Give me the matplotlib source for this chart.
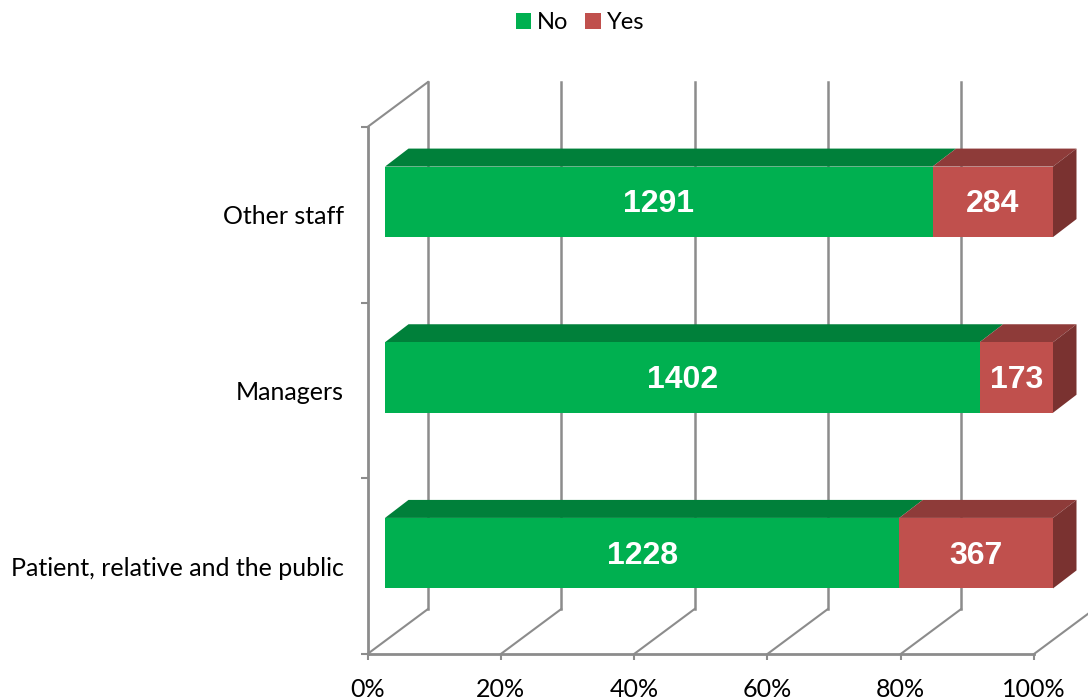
import matplotlib
matplotlib.use("Agg")
import matplotlib.pyplot as plt

plt.rcParams["font.family"] = ["Lato", "DejaVu Sans"]

categories = ["Patient, relative and the public", "Managers", "Other staff"]
no_counts = [1228, 1402, 1291]
yes_counts = [367, 173, 284]

GREEN, GREEN_TOP = "#00B050", "#00803A"
RED, RED_TOP, RED_SIDE = "#C0504D", "#8E3B39", "#7A3230"
GRAY = "#8C8C8C"

WIDTH, HEIGHT = 1088, 700
LEFT, RIGHT, TOP, BOTTOM = 367.5, 1034, 127, 654

# data units per pixel, the fake 3D depth is worked out in pixels
X_PX = 100 / (RIGHT - LEFT)
Y_PX = 3 / (BOTTOM - TOP)
WALL_DX, WALL_DY = 60.5 * X_PX, 45 * Y_PX
GAP_DX, GAP_DY = 17.5 * X_PX, 13 * Y_PX
BAR_DX, BAR_DY = 23.5 * X_PX, 18 * Y_PX
BAR_HEIGHT = 70.5 * Y_PX
BAR_SPAN = 100 + 1.5 * X_PX

fig = plt.figure(figsize=(WIDTH / 100, HEIGHT / 100), dpi=100)
ax = fig.add_axes([
    LEFT / WIDTH,
    1 - BOTTOM / HEIGHT,
    (RIGHT - LEFT) / WIDTH,
    (BOTTOM - TOP) / HEIGHT,
])
ax.set_xlim(0, 100)
ax.set_ylim(0, 3)

# floor lines and back wall
for pct in range(0, 101, 20):
    ax.plot([pct, pct + WALL_DX], [0, WALL_DY], color=GRAY, lw=1.5, clip_on=False, zorder=1)
    ax.plot([pct + WALL_DX] * 2, [WALL_DY, 3 + WALL_DY], color=GRAY, lw=1.8, clip_on=False, zorder=1)
ax.plot([0, WALL_DX], [3, 3 + WALL_DY], color=GRAY, lw=1.5, clip_on=False, zorder=1)


def draw_top(start, stop, bar_top, color):
    ax.fill(
        [start, stop, stop + BAR_DX, start + BAR_DX],
        [bar_top, bar_top, bar_top + BAR_DY, bar_top + BAR_DY],
        color=color, lw=0, clip_on=False, zorder=2,
    )


for row, (no, yes) in enumerate(zip(no_counts, yes_counts)):
    no_pct = no / (no + yes) * BAR_SPAN
    yes_pct = BAR_SPAN - no_pct
    center = row + 0.5 + GAP_DY
    bar_top = center + BAR_HEIGHT / 2
    bar_bottom = center - BAR_HEIGHT / 2

    no_bar = ax.barh(center, no_pct, BAR_HEIGHT, left=GAP_DX, color=GREEN, clip_on=False, zorder=3, label="No")
    yes_bar = ax.barh(center, yes_pct, BAR_HEIGHT, left=GAP_DX + no_pct, color=RED, clip_on=False, zorder=3, label="Yes")

    draw_top(GAP_DX, GAP_DX + no_pct, bar_top, GREEN_TOP)
    draw_top(GAP_DX + no_pct, GAP_DX + BAR_SPAN, bar_top, RED_TOP)
    end = GAP_DX + BAR_SPAN
    ax.fill(
        [end, end + BAR_DX, end + BAR_DX, end],
        [bar_bottom, bar_bottom + BAR_DY, bar_top + BAR_DY, bar_top],
        color=RED_SIDE, lw=0, clip_on=False, zorder=2,
    )

    for mid, count in ((GAP_DX + no_pct / 2, no), (GAP_DX + no_pct + yes_pct / 2, yes)):
        ax.text(mid, center - 2.5 * Y_PX, str(count), ha="center", va="center", color="white", fontsize=23,
                fontweight="bold", family="Liberation Sans", zorder=4)

for side in ("top", "right"):
    ax.spines[side].set_visible(False)
for side in ("left", "bottom"):
    ax.spines[side].set_color(GRAY)
    ax.spines[side].set_linewidth(2)

ax.set_xticks(range(0, 101, 20))
ax.set_xticklabels([f"{pct}%" for pct in range(0, 101, 20)])
ax.tick_params(axis="x", length=4, width=1.5, color=GRAY, labelsize=18, pad=13.5)

ax.set_yticks([0.5, 1.5, 2.5])
ax.set_yticklabels(categories)
ax.tick_params(axis="y", which="major", length=0, labelsize=18, pad=17)
ax.set_yticks([0, 1, 2, 3], minor=True)
ax.tick_params(axis="y", which="minor", length=5, width=1.5, color=GRAY)

ax.legend(
    handles=[no_bar, yes_bar],
    labels=["No", "Yes"],
    loc="upper center",
    bbox_to_anchor=(580 / WIDTH, 1 - 5 / HEIGHT),
    bbox_transform=fig.transFigure,
    ncol=2,
    frameon=False,
    fontsize=17,
    handlelength=0.64,
    handleheight=0.64,
    handletextpad=0.26,
    columnspacing=0.72,
    borderaxespad=0.1,
    borderpad=0.2,
)

fig.savefig("out.png", dpi=100)
